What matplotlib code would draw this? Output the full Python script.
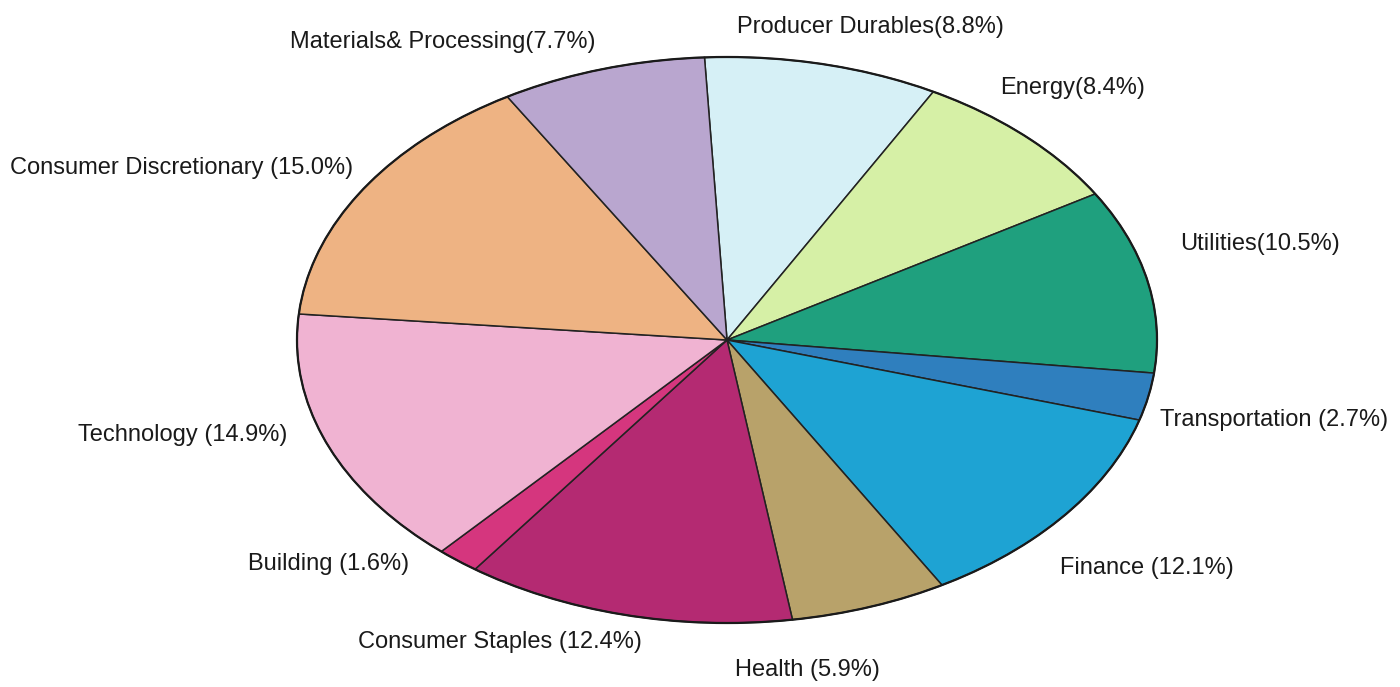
import matplotlib
matplotlib.use("Agg")
import matplotlib.pyplot as plt

# Sector weights, clockwise from the top of the pie
sectors = [
    "Producer Durables", "Energy", "Utilities", "Transportation", "Finance",
    "Health", "Consumer Staples", "Building", "Technology",
    "Consumer Discretionary", "Materials& Processing",
]
shares = [8.8, 8.4, 10.5, 2.7, 12.1, 5.9, 12.4, 1.6, 14.9, 15.0, 7.7]
label_texts = [
    "Producer Durables(8.8%)", "Energy(8.4%)", "Utilities(10.5%)",
    "Transportation (2.7%)", "Finance (12.1%)", "Health (5.9%)",
    "Consumer Staples (12.4%)", "Building (1.6%)", "Technology (14.9%)",
    "Consumer Discretionary (15.0%)", "Materials& Processing(7.7%)",
]

colors = [
    "#d6f0f6", "#d6f0a6", "#1fa07e", "#2f7fbe", "#1ea3d3", "#b8a26a",
    "#b42a72", "#d5367e", "#f0b3d2", "#eeb383", "#b9a6cf",
]
# label anchors in pixels (left edge, vertical centre) on a 1400x687 canvas
label_px = [
    (737, 27), (1000, 88), (1180, 244), (1160, 420), (1060, 568),
    (735, 670), (358, 642), (248, 564), (78, 435), (10, 168), (290, 42),
]

W, H = 1400, 687
CX, CY, RX, RY = 727, 340, 430, 283

fig = plt.figure(figsize=(W / 100, H / 100), dpi=100)
ax = fig.add_axes([0, 0, 1, 1])
ax.pie(
    shares,
    colors=colors,
    startangle=93,
    counterclock=False,
    wedgeprops={"edgecolor": "#222222", "linewidth": 1.1},
)
# stretch the pie into an ellipse
ax.set_aspect("auto")
ax.set_xlim(-CX / RX, (W - CX) / RX)
ax.set_ylim((CY - H) / RY, CY / RY)
ax.axis("off")

outline = matplotlib.patches.Ellipse((0, 0), 2, 2, fill=False,
                                     edgecolor="#1a1a1a", linewidth=1.6)
ax.add_patch(outline)

for text, (px, py) in zip(label_texts, label_px):
    fig.text(px / W, 1 - py / H, text, ha="left", va="center",
             fontsize=17, family="Liberation Sans", color="#1a1a1a")

fig.savefig("out.png", dpi=100, facecolor="white")
